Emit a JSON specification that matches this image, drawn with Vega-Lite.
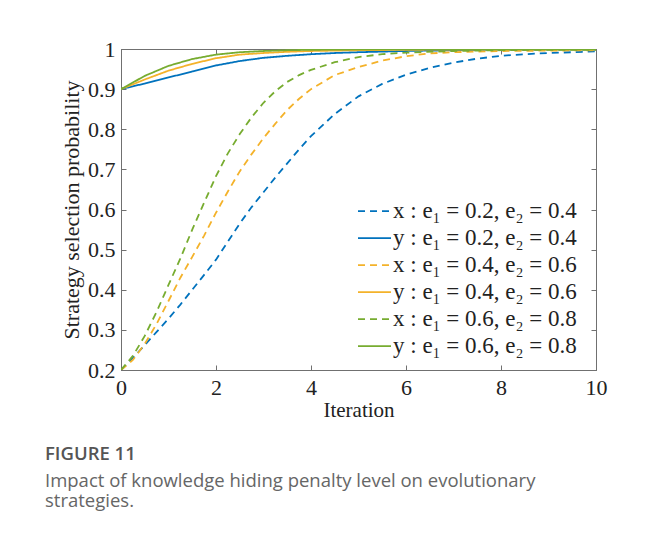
{
  "$schema": "https://vega.github.io/schema/vega-lite/v6.json",
  "width": 475,
  "height": 321,
  "autosize": {"type": "none"},
  "padding": {"left": 121, "top": 49, "right": 59, "bottom": 163},
  "background": "white",
  "title": {
    "text": "FIGURE 11",
    "subtitle": ["Impact of knowledge hiding penalty level on evolutionary", "strategies."],
    "orient": "bottom",
    "anchor": "start",
    "frame": "group",
    "dx": -76,
    "offset": 25,
    "font": "Open Sans",
    "fontSize": 18.5,
    "fontWeight": 600,
    "color": "#555555",
    "subtitleFont": "Open Sans",
    "subtitleFontSize": 18.5,
    "subtitleColor": "#666666",
    "subtitleLineHeight": 20,
    "subtitlePadding": 8
  },
  "data": {
    "values": [
      {"series": "x : e₁ = 0.2, e₂ = 0.4", "t": 0, "p": 0.200},
      {"series": "x : e₁ = 0.2, e₂ = 0.4", "t": 0.25, "p": 0.230},
      {"series": "x : e₁ = 0.2, e₂ = 0.4", "t": 0.5, "p": 0.262},
      {"series": "x : e₁ = 0.2, e₂ = 0.4", "t": 0.75, "p": 0.295},
      {"series": "x : e₁ = 0.2, e₂ = 0.4", "t": 1, "p": 0.328},
      {"series": "x : e₁ = 0.2, e₂ = 0.4", "t": 1.25, "p": 0.363},
      {"series": "x : e₁ = 0.2, e₂ = 0.4", "t": 1.5, "p": 0.400},
      {"series": "x : e₁ = 0.2, e₂ = 0.4", "t": 1.75, "p": 0.437},
      {"series": "x : e₁ = 0.2, e₂ = 0.4", "t": 2, "p": 0.475},
      {"series": "x : e₁ = 0.2, e₂ = 0.4", "t": 2.25, "p": 0.520},
      {"series": "x : e₁ = 0.2, e₂ = 0.4", "t": 2.5, "p": 0.565},
      {"series": "x : e₁ = 0.2, e₂ = 0.4", "t": 2.75, "p": 0.606},
      {"series": "x : e₁ = 0.2, e₂ = 0.4", "t": 3, "p": 0.643},
      {"series": "x : e₁ = 0.2, e₂ = 0.4", "t": 3.25, "p": 0.680},
      {"series": "x : e₁ = 0.2, e₂ = 0.4", "t": 3.5, "p": 0.715},
      {"series": "x : e₁ = 0.2, e₂ = 0.4", "t": 3.75, "p": 0.750},
      {"series": "x : e₁ = 0.2, e₂ = 0.4", "t": 4, "p": 0.783},
      {"series": "x : e₁ = 0.2, e₂ = 0.4", "t": 4.5, "p": 0.838},
      {"series": "x : e₁ = 0.2, e₂ = 0.4", "t": 5, "p": 0.882},
      {"series": "x : e₁ = 0.2, e₂ = 0.4", "t": 5.5, "p": 0.913},
      {"series": "x : e₁ = 0.2, e₂ = 0.4", "t": 6, "p": 0.936},
      {"series": "x : e₁ = 0.2, e₂ = 0.4", "t": 6.5, "p": 0.953},
      {"series": "x : e₁ = 0.2, e₂ = 0.4", "t": 7, "p": 0.966},
      {"series": "x : e₁ = 0.2, e₂ = 0.4", "t": 7.5, "p": 0.976},
      {"series": "x : e₁ = 0.2, e₂ = 0.4", "t": 8, "p": 0.983},
      {"series": "x : e₁ = 0.2, e₂ = 0.4", "t": 8.5, "p": 0.987},
      {"series": "x : e₁ = 0.2, e₂ = 0.4", "t": 9, "p": 0.990},
      {"series": "x : e₁ = 0.2, e₂ = 0.4", "t": 9.5, "p": 0.992},
      {"series": "x : e₁ = 0.2, e₂ = 0.4", "t": 10, "p": 0.994},

      {"series": "y : e₁ = 0.2, e₂ = 0.4", "t": 0, "p": 0.900},
      {"series": "y : e₁ = 0.2, e₂ = 0.4", "t": 0.5, "p": 0.914},
      {"series": "y : e₁ = 0.2, e₂ = 0.4", "t": 1, "p": 0.929},
      {"series": "y : e₁ = 0.2, e₂ = 0.4", "t": 1.5, "p": 0.944},
      {"series": "y : e₁ = 0.2, e₂ = 0.4", "t": 2, "p": 0.959},
      {"series": "y : e₁ = 0.2, e₂ = 0.4", "t": 2.5, "p": 0.970},
      {"series": "y : e₁ = 0.2, e₂ = 0.4", "t": 3, "p": 0.978},
      {"series": "y : e₁ = 0.2, e₂ = 0.4", "t": 3.5, "p": 0.983},
      {"series": "y : e₁ = 0.2, e₂ = 0.4", "t": 4, "p": 0.987},
      {"series": "y : e₁ = 0.2, e₂ = 0.4", "t": 4.5, "p": 0.990},
      {"series": "y : e₁ = 0.2, e₂ = 0.4", "t": 5, "p": 0.992},
      {"series": "y : e₁ = 0.2, e₂ = 0.4", "t": 6, "p": 0.995},
      {"series": "y : e₁ = 0.2, e₂ = 0.4", "t": 7, "p": 0.997},
      {"series": "y : e₁ = 0.2, e₂ = 0.4", "t": 8, "p": 0.998},
      {"series": "y : e₁ = 0.2, e₂ = 0.4", "t": 9, "p": 0.999},
      {"series": "y : e₁ = 0.2, e₂ = 0.4", "t": 10, "p": 0.999},

      {"series": "x : e₁ = 0.4, e₂ = 0.6", "t": 0, "p": 0.200},
      {"series": "x : e₁ = 0.4, e₂ = 0.6", "t": 0.25, "p": 0.225},
      {"series": "x : e₁ = 0.4, e₂ = 0.6", "t": 0.5, "p": 0.265},
      {"series": "x : e₁ = 0.4, e₂ = 0.6", "t": 0.75, "p": 0.315},
      {"series": "x : e₁ = 0.4, e₂ = 0.6", "t": 1, "p": 0.372},
      {"series": "x : e₁ = 0.4, e₂ = 0.6", "t": 1.25, "p": 0.430},
      {"series": "x : e₁ = 0.4, e₂ = 0.6", "t": 1.5, "p": 0.482},
      {"series": "x : e₁ = 0.4, e₂ = 0.6", "t": 1.75, "p": 0.535},
      {"series": "x : e₁ = 0.4, e₂ = 0.6", "t": 2, "p": 0.592},
      {"series": "x : e₁ = 0.4, e₂ = 0.6", "t": 2.25, "p": 0.645},
      {"series": "x : e₁ = 0.4, e₂ = 0.6", "t": 2.5, "p": 0.695},
      {"series": "x : e₁ = 0.4, e₂ = 0.6", "t": 2.75, "p": 0.738},
      {"series": "x : e₁ = 0.4, e₂ = 0.6", "t": 3, "p": 0.778},
      {"series": "x : e₁ = 0.4, e₂ = 0.6", "t": 3.25, "p": 0.814},
      {"series": "x : e₁ = 0.4, e₂ = 0.6", "t": 3.5, "p": 0.848},
      {"series": "x : e₁ = 0.4, e₂ = 0.6", "t": 3.75, "p": 0.876},
      {"series": "x : e₁ = 0.4, e₂ = 0.6", "t": 4, "p": 0.900},
      {"series": "x : e₁ = 0.4, e₂ = 0.6", "t": 4.5, "p": 0.935},
      {"series": "x : e₁ = 0.4, e₂ = 0.6", "t": 5, "p": 0.955},
      {"series": "x : e₁ = 0.4, e₂ = 0.6", "t": 5.5, "p": 0.971},
      {"series": "x : e₁ = 0.4, e₂ = 0.6", "t": 6, "p": 0.982},
      {"series": "x : e₁ = 0.4, e₂ = 0.6", "t": 6.5, "p": 0.989},
      {"series": "x : e₁ = 0.4, e₂ = 0.6", "t": 7, "p": 0.992},
      {"series": "x : e₁ = 0.4, e₂ = 0.6", "t": 8, "p": 0.995},
      {"series": "x : e₁ = 0.4, e₂ = 0.6", "t": 9, "p": 0.996},
      {"series": "x : e₁ = 0.4, e₂ = 0.6", "t": 10, "p": 0.997},

      {"series": "y : e₁ = 0.4, e₂ = 0.6", "t": 0, "p": 0.900},
      {"series": "y : e₁ = 0.4, e₂ = 0.6", "t": 0.5, "p": 0.924},
      {"series": "y : e₁ = 0.4, e₂ = 0.6", "t": 1, "p": 0.946},
      {"series": "y : e₁ = 0.4, e₂ = 0.6", "t": 1.5, "p": 0.963},
      {"series": "y : e₁ = 0.4, e₂ = 0.6", "t": 2, "p": 0.977},
      {"series": "y : e₁ = 0.4, e₂ = 0.6", "t": 2.5, "p": 0.986},
      {"series": "y : e₁ = 0.4, e₂ = 0.6", "t": 3, "p": 0.990},
      {"series": "y : e₁ = 0.4, e₂ = 0.6", "t": 3.5, "p": 0.993},
      {"series": "y : e₁ = 0.4, e₂ = 0.6", "t": 4, "p": 0.995},
      {"series": "y : e₁ = 0.4, e₂ = 0.6", "t": 5, "p": 0.997},
      {"series": "y : e₁ = 0.4, e₂ = 0.6", "t": 6, "p": 0.998},
      {"series": "y : e₁ = 0.4, e₂ = 0.6", "t": 8, "p": 0.999},
      {"series": "y : e₁ = 0.4, e₂ = 0.6", "t": 10, "p": 0.999},

      {"series": "x : e₁ = 0.6, e₂ = 0.8", "t": 0, "p": 0.200},
      {"series": "x : e₁ = 0.6, e₂ = 0.8", "t": 0.25, "p": 0.235},
      {"series": "x : e₁ = 0.6, e₂ = 0.8", "t": 0.5, "p": 0.285},
      {"series": "x : e₁ = 0.6, e₂ = 0.8", "t": 0.75, "p": 0.345},
      {"series": "x : e₁ = 0.6, e₂ = 0.8", "t": 1, "p": 0.412},
      {"series": "x : e₁ = 0.6, e₂ = 0.8", "t": 1.25, "p": 0.478},
      {"series": "x : e₁ = 0.6, e₂ = 0.8", "t": 1.5, "p": 0.550},
      {"series": "x : e₁ = 0.6, e₂ = 0.8", "t": 1.75, "p": 0.617},
      {"series": "x : e₁ = 0.6, e₂ = 0.8", "t": 2, "p": 0.683},
      {"series": "x : e₁ = 0.6, e₂ = 0.8", "t": 2.25, "p": 0.740},
      {"series": "x : e₁ = 0.6, e₂ = 0.8", "t": 2.5, "p": 0.788},
      {"series": "x : e₁ = 0.6, e₂ = 0.8", "t": 2.75, "p": 0.830},
      {"series": "x : e₁ = 0.6, e₂ = 0.8", "t": 3, "p": 0.866},
      {"series": "x : e₁ = 0.6, e₂ = 0.8", "t": 3.25, "p": 0.895},
      {"series": "x : e₁ = 0.6, e₂ = 0.8", "t": 3.5, "p": 0.918},
      {"series": "x : e₁ = 0.6, e₂ = 0.8", "t": 3.75, "p": 0.935},
      {"series": "x : e₁ = 0.6, e₂ = 0.8", "t": 4, "p": 0.948},
      {"series": "x : e₁ = 0.6, e₂ = 0.8", "t": 4.5, "p": 0.967},
      {"series": "x : e₁ = 0.6, e₂ = 0.8", "t": 5, "p": 0.980},
      {"series": "x : e₁ = 0.6, e₂ = 0.8", "t": 5.5, "p": 0.987},
      {"series": "x : e₁ = 0.6, e₂ = 0.8", "t": 6, "p": 0.991},
      {"series": "x : e₁ = 0.6, e₂ = 0.8", "t": 7, "p": 0.995},
      {"series": "x : e₁ = 0.6, e₂ = 0.8", "t": 8, "p": 0.997},
      {"series": "x : e₁ = 0.6, e₂ = 0.8", "t": 9, "p": 0.998},
      {"series": "x : e₁ = 0.6, e₂ = 0.8", "t": 10, "p": 0.998},

      {"series": "y : e₁ = 0.6, e₂ = 0.8", "t": 0, "p": 0.900},
      {"series": "y : e₁ = 0.6, e₂ = 0.8", "t": 0.5, "p": 0.933},
      {"series": "y : e₁ = 0.6, e₂ = 0.8", "t": 1, "p": 0.958},
      {"series": "y : e₁ = 0.6, e₂ = 0.8", "t": 1.5, "p": 0.975},
      {"series": "y : e₁ = 0.6, e₂ = 0.8", "t": 2, "p": 0.986},
      {"series": "y : e₁ = 0.6, e₂ = 0.8", "t": 2.5, "p": 0.992},
      {"series": "y : e₁ = 0.6, e₂ = 0.8", "t": 3, "p": 0.995},
      {"series": "y : e₁ = 0.6, e₂ = 0.8", "t": 3.5, "p": 0.997},
      {"series": "y : e₁ = 0.6, e₂ = 0.8", "t": 4, "p": 0.998},
      {"series": "y : e₁ = 0.6, e₂ = 0.8", "t": 5, "p": 0.999},
      {"series": "y : e₁ = 0.6, e₂ = 0.8", "t": 10, "p": 0.999}
    ]
  },
  "layer": [
    {
      "mark": {"type": "line", "opacity": 0},
      "encoding": {
        "x": {"field": "t", "type": "quantitative", "scale": {"domain": [0, 10], "nice": false},
              "axis": {"orient": "top", "labels": false, "title": null, "values": [0, 2, 4, 6, 8, 10]}},
        "y": {"field": "p", "type": "quantitative", "scale": {"domain": [0.2, 1], "nice": false},
              "axis": {"orient": "right", "labels": false, "title": null, "values": [0.2, 0.3, 0.4, 0.5, 0.6, 0.7, 0.8, 0.9, 1]}},
        "detail": {"field": "series"}
      }
    },
    {
      "mark": {"type": "line", "strokeWidth": 1.8, "clip": true},
      "encoding": {
        "x": {"field": "t", "type": "quantitative",
              "axis": {"orient": "bottom", "title": "Iteration", "values": [0, 2, 4, 6, 8, 10],
                       "labelFlush": false, "labelPadding": 12, "titlePadding": 1, "titleFontSize": 21}},
        "y": {"field": "p", "type": "quantitative",
              "axis": {"orient": "left", "title": "Strategy selection probability", "format": ".1~f",
                       "values": [0.2, 0.3, 0.4, 0.5, 0.6, 0.7, 0.8, 0.9, 1],
                       "labelFlush": false, "labelPadding": 11, "titlePadding": 4, "titleFontSize": 22}},
        "color": {
          "field": "series", "type": "nominal",
          "scale": {
            "domain": ["x : e₁ = 0.2, e₂ = 0.4", "y : e₁ = 0.2, e₂ = 0.4", "x : e₁ = 0.4, e₂ = 0.6", "y : e₁ = 0.4, e₂ = 0.6", "x : e₁ = 0.6, e₂ = 0.8", "y : e₁ = 0.6, e₂ = 0.8"],
            "range": ["#0072BD", "#0072BD", "#F4B22A", "#F4B22A", "#77AC30", "#77AC30"]
          },
          "legend": {
            "orient": "none", "legendX": 236, "legendY": 149, "title": null,
            "symbolType": "stroke", "symbolSize": 1089, "symbolStrokeWidth": 1.8,
            "labelFont": "Liberation Serif", "labelFontSize": 23, "labelColor": "#222222",
            "clipHeight": 26.4, "rowPadding": 0, "labelOffset": 1, "labelLimit": 400
          }
        },
        "strokeDash": {
          "field": "series", "type": "nominal",
          "scale": {
            "domain": ["x : e₁ = 0.2, e₂ = 0.4", "y : e₁ = 0.2, e₂ = 0.4", "x : e₁ = 0.4, e₂ = 0.6", "y : e₁ = 0.4, e₂ = 0.6", "x : e₁ = 0.6, e₂ = 0.8", "y : e₁ = 0.6, e₂ = 0.8"],
            "range": [[7, 5], [1, 0], [7, 5], [1, 0], [7, 5], [1, 0]]
          },
          "legend": {
            "orient": "none", "legendX": 236, "legendY": 149, "title": null,
            "symbolType": "stroke", "symbolSize": 1089, "symbolStrokeWidth": 1.8,
            "labelFont": "Liberation Serif", "labelFontSize": 23, "labelColor": "#222222",
            "clipHeight": 26.4, "rowPadding": 0, "labelOffset": 1, "labelLimit": 400
          }
        }
      }
    }
  ],
  "resolve": {"axis": {"x": "independent", "y": "independent"}},
  "config": {
    "view": {"stroke": "#707070", "strokeWidth": 1},
    "axis": {
      "grid": false,
      "domainColor": "#707070",
      "tickColor": "#707070",
      "tickSize": -5,
      "labelFont": "Liberation Serif",
      "labelFontSize": 22,
      "labelColor": "#222222",
      "titleFont": "Liberation Serif",
      "titleFontWeight": "normal",
      "titleColor": "#222222"
    }
  }
}
